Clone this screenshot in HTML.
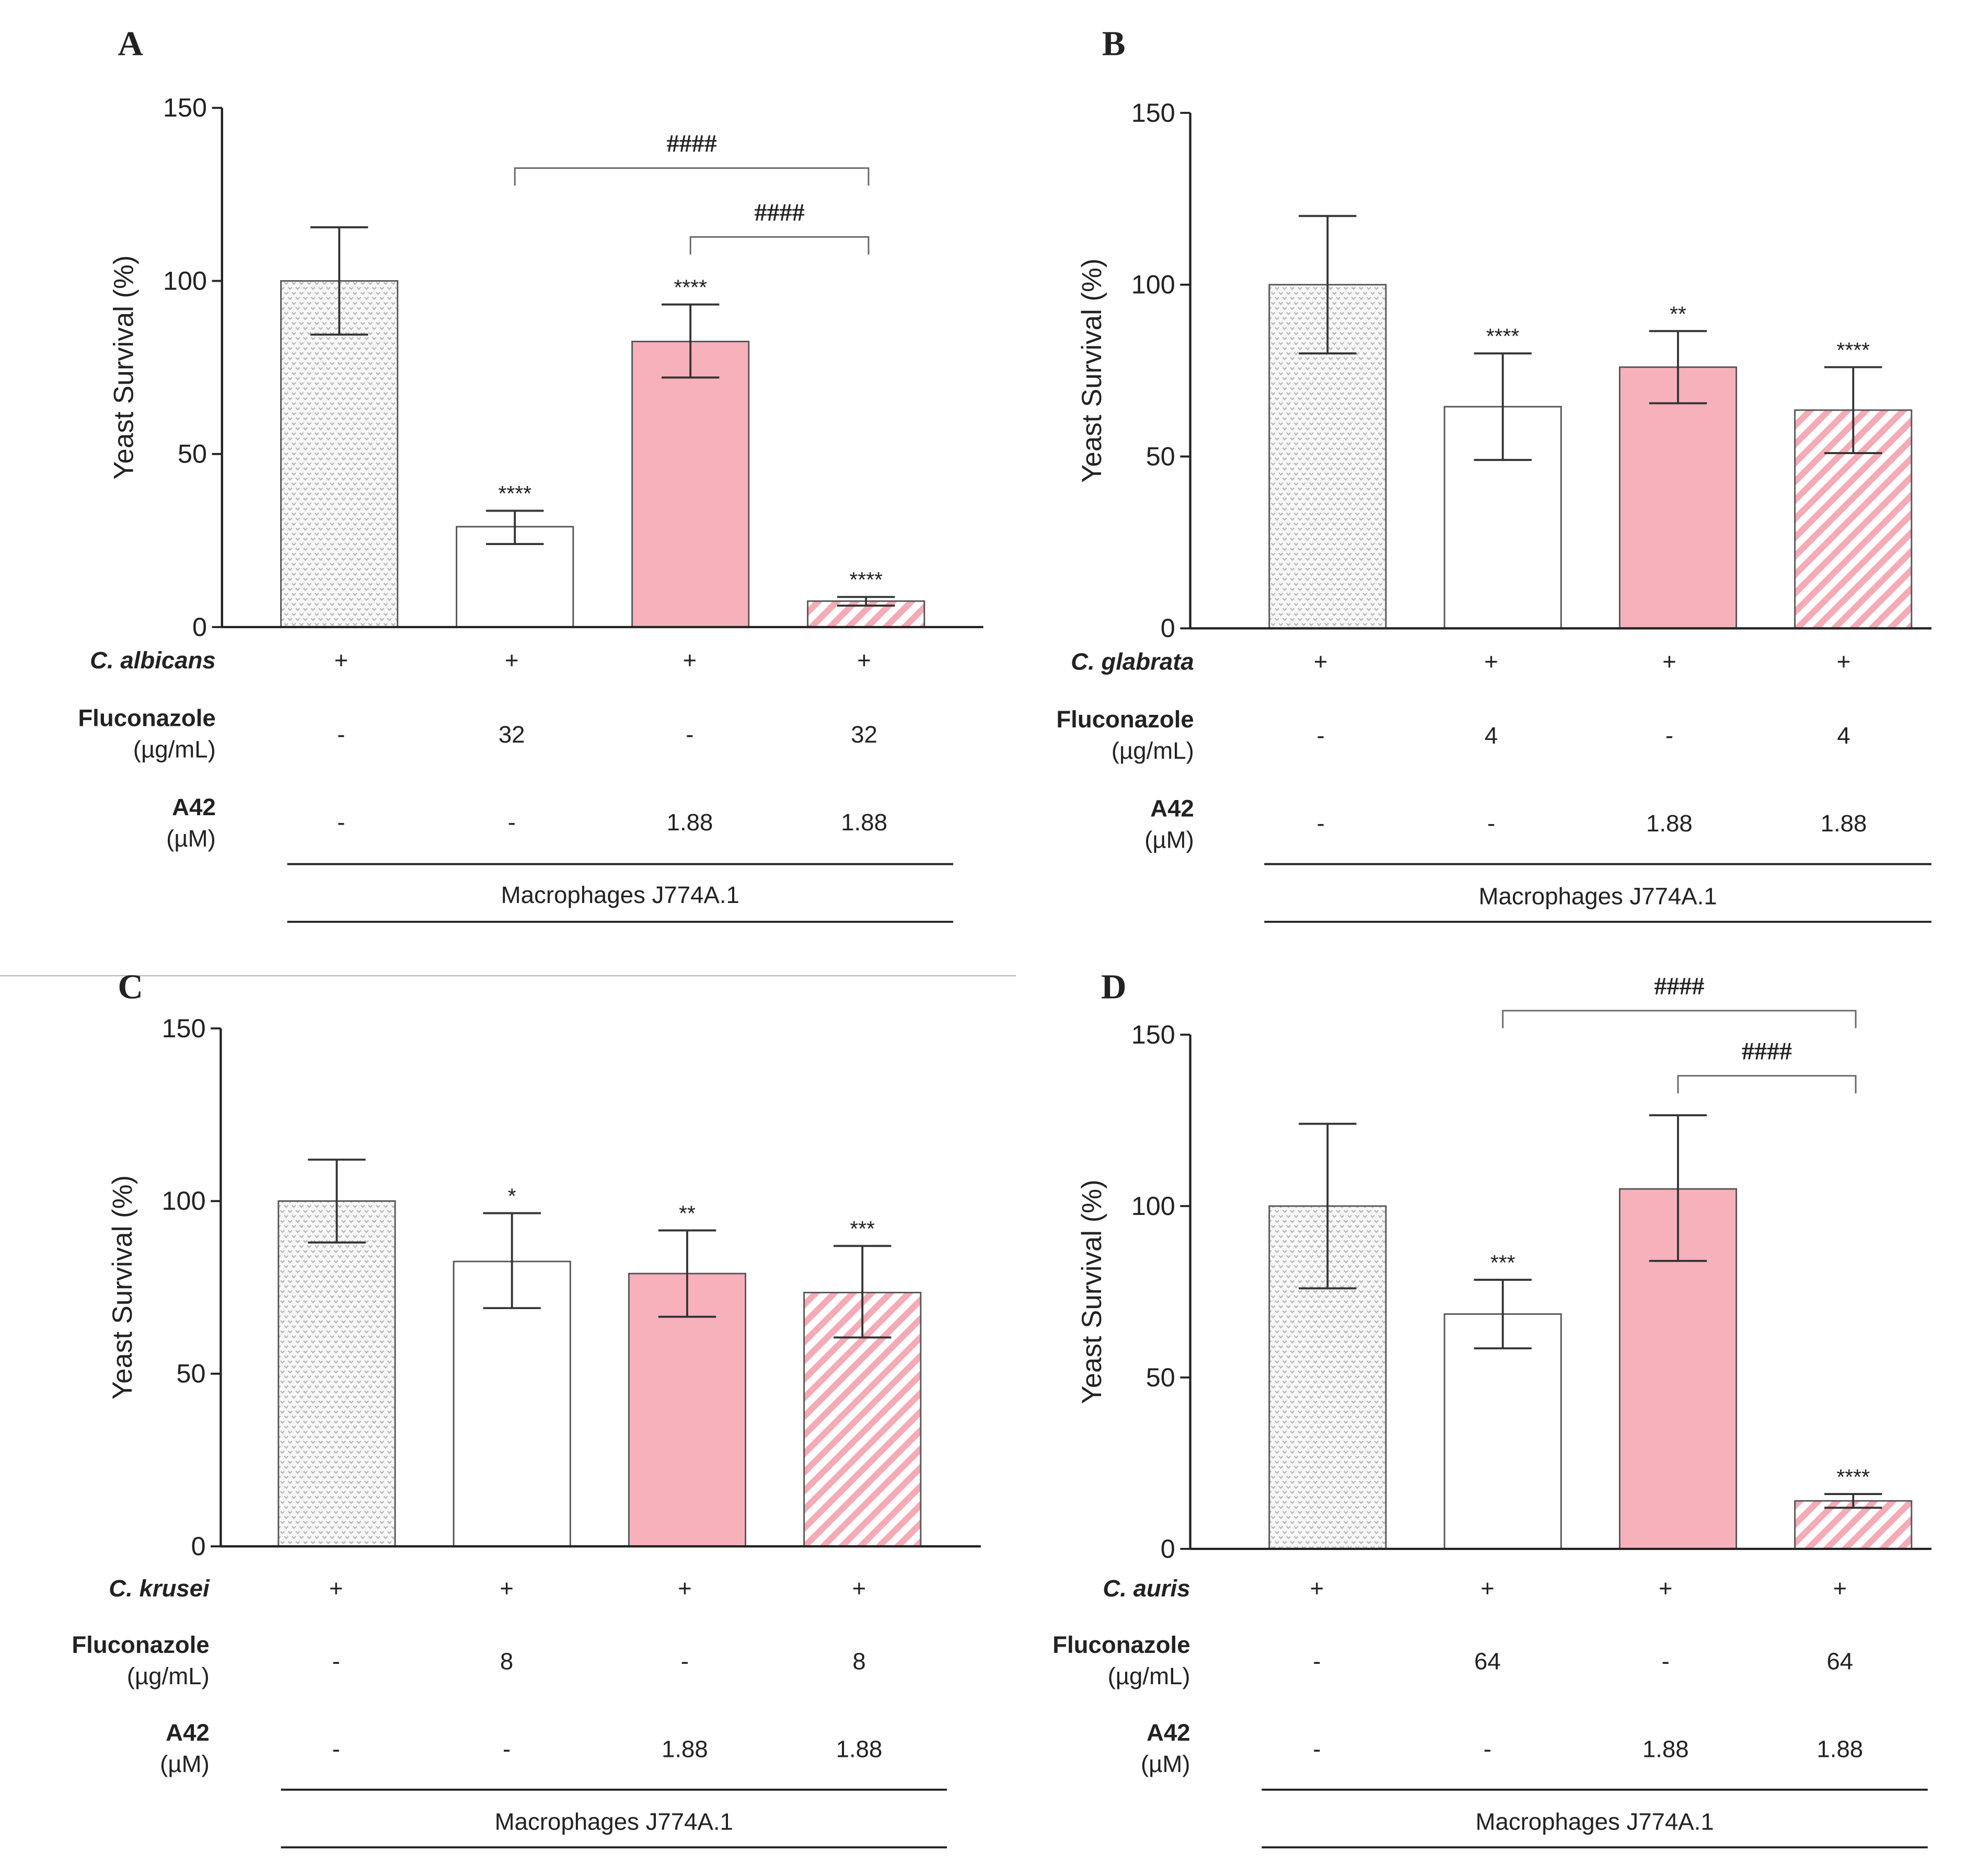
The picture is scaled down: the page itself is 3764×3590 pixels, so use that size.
<!DOCTYPE html>
<html><head><meta charset="utf-8">
<style>
html,body{margin:0;padding:0;background:#fff;}
svg{display:block;}
text{font-family:"Liberation Sans",Arial,sans-serif;fill:#222;}
</style></head>
<body>
<svg id="fig" width="3764" height="3590" viewBox="0 0 1568.33 1495.83" xmlns="http://www.w3.org/2000/svg">
<defs>
<pattern id="pat-v" patternUnits="userSpaceOnUse" width="6.1" height="8">
<rect width="6.1" height="8" fill="#f7f7f7"/>
<path d="M1,1 L2.5,2.6 L4,1" stroke="#b5b5b5" stroke-width="0.9" fill="none"/>
<path d="M4.05,5 L5.55,6.6 L7.05,5 M-2,5 L-0.5,6.6 L1,5" stroke="#b5b5b5" stroke-width="0.9" fill="none"/>
</pattern>
<pattern id="pat-stripe" patternUnits="userSpaceOnUse" width="10.5" height="10.5" patternTransform="rotate(-45)">
<rect width="10.5" height="10.5" fill="#fff"/>
<rect width="10.5" height="5" fill="#f4abb6"/>
</pattern>
</defs>
<line x1="0" y1="778" x2="810" y2="778" stroke="#bbb" stroke-width="1"/>
<g id="root"></g>
</svg>
<script>
// ---- data ----
const panelIds = ['A','B','C','D'];
const speciesNames = ['C. albicans','C. glabrata','C. krusei','C. auris'];
const meansA = [100, 29, 82.5, 7.5];
const errHiA = [115.5, 33.6, 93.2, 8.7];
const errLoA = [84.5, 24, 72.1, 6.2];
const starsA = ['', '****', '****', '****'];
const flucA = ['-', '32', '-', '32'];
const meansB = [100, 64.5, 76, 63.5];
const errHiB = [120, 80, 86.5, 76];
const errLoB = [80, 49, 65.5, 51];
const starsB = ['', '****', '**', '****'];
const flucB = ['-', '4', '-', '4'];
const meansC = [100, 82.5, 79, 73.5];
const errHiC = [112, 96.5, 91.5, 87];
const errLoC = [88, 69, 66.5, 60.5];
const starsC = ['', '*', '**', '***'];
const flucC = ['-', '8', '-', '8'];
const meansD = [100, 68.5, 105, 14];
const errHiD = [124, 78.5, 126.5, 16];
const errLoD = [76, 58.5, 84, 12];
const starsD = ['', '***', '', '****'];
const flucD = ['-', '64', '-', '64'];
const a42Vals = ['-', '-', '1.88', '1.88'];
const yTicks = [0, 50, 100, 150];
const hashA = [[1, 3, 132.6], [2, 3, 112.7]];
const hashD = [[1, 3, 157], [2, 3, 138]];

const NS = 'http://www.w3.org/2000/svg';
const root = document.getElementById('root');
function mk(tag, attrs, parent, txt) {
  const e = document.createElementNS(NS, tag);
  for (const k in attrs) e.setAttribute(k, attrs[k]);
  if (txt !== undefined) e.textContent = txt;
  (parent || root).appendChild(e);
  return e;
}
const layouts = [
  {ax:177, x0:86, y0:500, right:784, left:224, dx:140, bw:93, letter:[104,34], rowY:[526,572,597,585,643,668,655], line:[689,735], mac:713, lab:172, vals:[272,408,550,689], lineX:[229,760]},
  {ax:949, x0:90, y0:501, right:1540, left:1012, dx:139.7, bw:93, letter:[888,34], rowY:[527,573,598,586,644,669,656], line:[689,735], mac:714, lab:952, vals:[1053,1189,1331,1470], lineX:[1008,1540]},
  {ax:176, x0:820, y0:1233, right:782, left:222, dx:139.7, bw:93, letter:[104,786], rowY:[1266,1311,1336,1324,1381,1406,1394], line:[1427,1473], mac:1452, lab:167, vals:[268,404,546,685], lineX:[224,755]},
  {ax:949, x0:825, y0:1235, right:1540, left:1012, dx:139.7, bw:93, letter:[888,786], rowY:[1266,1311,1336,1324,1381,1406,1394], line:[1427,1473], mac:1452, lab:949, vals:[1050,1186,1328,1467], lineX:[1006,1537]}
];
const allMeans = [meansA, meansB, meansC, meansD];
const allHi = [errHiA, errHiB, errHiC, errHiD];
const allLo = [errLoA, errLoB, errLoC, errLoD];
const allStars = [starsA, starsB, starsC, starsD];
const allFluc = [flucA, flucB, flucC, flucD];
const allHash = [hashA, [], [], hashD];
const fills = ['url(#pat-v)', '#ffffff', '#f6b1ba', 'url(#pat-stripe)'];

layouts.forEach((L, p) => {
  const g = mk('g', {});
  
  
  const y = v => L.y0 - (L.y0 - L.x0) * v / 150;
  const xc = i => L.left + L.bw / 2 + i * L.dx;
  const lt = mk('text', {x: L.letter[0], y: L.letter[1] + 10, 'text-anchor': 'middle', 'font-size': 28, 'font-weight': 'bold', style: 'font-family:"Liberation Serif",serif'}, g, panelIds[p]);
  
  
  allMeans[p].forEach((m, i) => {
    const r = mk('rect', {x: L.left + i * L.dx, y: y(m), width: L.bw, height: y(0) - y(m), fill: fills[i], stroke: '#555', 'stroke-width': 1.2}, g);
    
    
  });
  allMeans[p].forEach((m, i) => {
    const eg = mk('g', {stroke: '#333', 'stroke-width': 1.6}, g);
    
    
    const hi = allHi[p][i], lo = allLo[p][i], c = xc(i);
    mk('line', {x1: c, x2: c, y1: y(hi), y2: y(lo)}, eg);
    mk('line', {x1: c - 23, x2: c + 23, y1: y(hi), y2: y(hi)}, eg);
    mk('line', {x1: c - 23, x2: c + 23, y1: y(lo), y2: y(lo)}, eg);
    if (allStars[p][i]) {
      const s = mk('text', {x: c, y: y(hi) - 8, 'text-anchor': 'middle', 'font-size': 17}, g, allStars[p][i]);
      
      
    }
  });
  const ya = mk('line', {x1: L.ax, x2: L.ax, y1: L.x0, y2: L.y0, stroke: '#222', 'stroke-width': 1.8}, g);
  
  
  const xa = mk('line', {x1: L.ax, x2: L.right, y1: L.y0, y2: L.y0, stroke: '#222', 'stroke-width': 1.8}, g);
  
  
  yTicks.forEach(t => {
    mk('line', {x1: L.ax - 8, x2: L.ax, y1: y(t), y2: y(t), stroke: '#222', 'stroke-width': 1.6}, g);
    const tl = mk('text', {x: L.ax - 12, y: y(t) + 7, 'text-anchor': 'end', 'font-size': 21}, g, String(t));
    
    
  });
  const yt = mk('text', {x: 0, y: 0, 'text-anchor': 'middle', 'font-size': 22, transform: 'translate(' + (L.ax - 71) + ',' + ((L.x0 + L.y0) / 2) + ') rotate(-90)'}, g, 'Yeast Survival (%)');
  
  
  allHash[p].forEach(h => {
    const bx1 = xc(h[0]), bx2 = xc(h[1]) + 2, by = y(h[2]);
    const b = mk('path', {d: 'M' + bx1 + ',' + (by + 14) + ' V' + by + ' H' + bx2 + ' V' + (by + 14), fill: 'none', stroke: '#666', 'stroke-width': 1.2}, g);
    
    
    const ht = mk('text', {x: (bx1 + bx2) / 2, y: by - 13, 'text-anchor': 'middle', 'font-size': 20, 'font-weight': 'bold', style: 'font-family:"Liberation Serif",serif'}, g, '####');
    
    
  });
  const R = L.rowY;
  const sp = mk('text', {x: L.lab, y: R[0] + 7, 'text-anchor': 'end', 'font-size': 19, 'font-weight': 'bold', 'font-style': 'italic'}, g, speciesNames[p]);
  
  
  const fl = mk('text', {x: L.lab, y: R[1] + 7, 'text-anchor': 'end', 'font-size': 19, 'font-weight': 'bold'}, g, 'Fluconazole');
  
  
  mk('text', {x: L.lab, y: R[2] + 7, 'text-anchor': 'end', 'font-size': 19}, g, '(µg/mL)');
  const al = mk('text', {x: L.lab, y: R[4] + 7, 'text-anchor': 'end', 'font-size': 19, 'font-weight': 'bold'}, g, 'A42');
  
  
  mk('text', {x: L.lab, y: R[5] + 7, 'text-anchor': 'end', 'font-size': 19}, g, '(µM)');
  L.vals.forEach((vx, i) => {
    mk('text', {x: vx, y: R[0] + 7, 'text-anchor': 'middle', 'font-size': 19}, g, '+');
    const fv = mk('text', {x: vx, y: R[3] + 7, 'text-anchor': 'middle', 'font-size': 19}, g, allFluc[p][i]);
    
    
    const av = mk('text', {x: vx, y: R[6] + 7, 'text-anchor': 'middle', 'font-size': 19}, g, a42Vals[i]);
    
    
  });
  mk('line', {x1: L.lineX[0], x2: L.lineX[1], y1: L.line[0], y2: L.line[0], stroke: '#222', 'stroke-width': 1.6}, g);
  mk('line', {x1: L.lineX[0], x2: L.lineX[1], y1: L.line[1], y2: L.line[1], stroke: '#222', 'stroke-width': 1.6}, g);
  const mt = mk('text', {x: (L.lineX[0] + L.lineX[1]) / 2, y: L.mac + 7, 'text-anchor': 'middle', 'font-size': 19}, g, 'Macrophages J774A.1');
  
  
});
</script>
</body></html>
